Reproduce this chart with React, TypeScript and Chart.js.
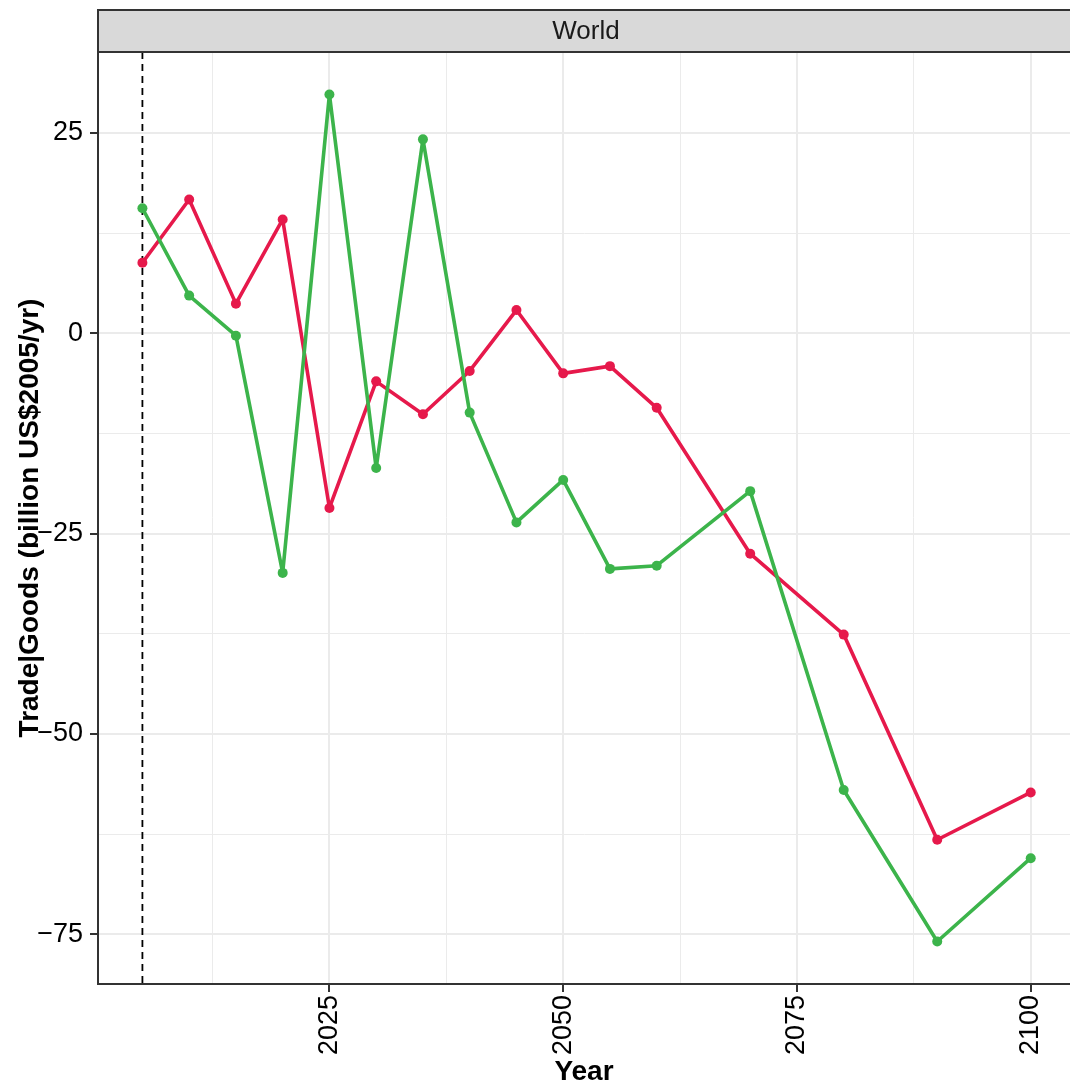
import React, { useEffect, useRef } from "react";
import { Chart, registerables } from "chart.js";

Chart.register(...registerables);

// ---- Data ----
const YEARS = [2005, 2010, 2015, 2020, 2025, 2030, 2035, 2040, 2045, 2050, 2055, 2060, 2070, 2080, 2090, 2100];
const SERIES_RED = [8.8, 16.7, 3.7, 14.2, -21.8, -6.0, -10.1, -4.7, 2.9, -5.0, -4.1, -9.3, -27.5, -37.6, -63.2, -57.3];
const SERIES_GREEN = [15.6, 4.7, -0.3, -29.9, 29.8, -16.8, 24.2, -9.9, -23.6, -18.3, -29.4, -29.0, -19.7, -57.0, -75.9, -65.5];

const X_MAJOR_TICKS = [2025, 2050, 2075, 2100];
const X_MINOR_TICKS = [2012.5, 2037.5, 2062.5, 2087.5];
const Y_MAJOR_TICKS = [-75, -50, -25, 0, 25];
const Y_MINOR_TICKS = [-62.5, -37.5, -12.5, 12.5];
const X_RANGE = [2000.25, 2104.2];
const Y_RANGE = [-81.2, 35.1];
const REFERENCE_YEAR = 2005;

const FACET_LABEL = "World";
const X_TITLE = "Year";
const Y_TITLE = "Trade|Goods (billion US$2005/yr)";

const RED = "#e6194b";
const GREEN = "#3cb44b";
const FONT = "'Liberation Sans', Arial, Helvetica, sans-serif";

const isMajor = (v: number, majors: number[]) => majors.some((m) => Math.abs(m - v) < 1e-6);

const stripPlugin = {
  id: "strip",
  afterDraw(chart: any) {
    const { ctx, chartArea, width } = chart;
    const top = 10;
    const bottom = chartArea.top;
    ctx.save();
    ctx.fillStyle = "#d9d9d9";
    ctx.fillRect(chartArea.left, top, width + 10 - chartArea.left, bottom - top);
    ctx.strokeStyle = "#333333";
    ctx.lineWidth = 2;
    ctx.strokeRect(chartArea.left, top, width + 10 - chartArea.left, bottom - top);
    ctx.fillStyle = "#1a1a1a";
    ctx.font = `26px ${FONT}`;
    ctx.textAlign = "center";
    ctx.textBaseline = "middle";
    const xs = chart.scales.x;
    const cx = xs.getPixelForValue((X_RANGE[0] + X_RANGE[1]) / 2) + 2;
    ctx.fillText(FACET_LABEL, cx, (top + bottom) / 2 + 1);
    ctx.restore();
  },
};

const refLinePlugin = {
  id: "refLine",
  beforeDatasetsDraw(chart: any) {
    const { ctx, chartArea } = chart;
    const x = chart.scales.x.getPixelForValue(REFERENCE_YEAR);
    ctx.save();
    ctx.strokeStyle = "#000000";
    ctx.lineWidth = 1.8;
    ctx.setLineDash([7, 5]);
    ctx.beginPath();
    ctx.moveTo(x, chartArea.top);
    ctx.lineTo(x, chartArea.bottom);
    ctx.stroke();
    ctx.restore();
  },
};

export default function App() {
  const ref = useRef<HTMLCanvasElement | null>(null);

  useEffect(() => {
    if (!ref.current) return;
    const lineStyle = (color: string, order: number) => ({
      borderColor: color,
      backgroundColor: color,
      pointBackgroundColor: color,
      pointBorderWidth: 0,
      pointRadius: 5,
      borderWidth: 3.6,
      borderJoinStyle: "round",
      borderCapStyle: "round",
      tension: 0,
      order,
    });
    const chart = new Chart(ref.current, {
      type: "line",
      data: {
        datasets: [
          {
            label: "green",
            data: YEARS.map((y, i) => ({ x: y, y: SERIES_GREEN[i] })),
            ...lineStyle(GREEN, 0),
          },
          {
            label: "red",
            data: YEARS.map((y, i) => ({ x: y, y: SERIES_RED[i] })),
            ...lineStyle(RED, 1),
          },
        ],
      },
      options: {
        animation: false,
        responsive: false,
        maintainAspectRatio: false,
        layout: { autoPadding: false, padding: { top: 52, left: 0, right: 0, bottom: 0 } },
        plugins: { legend: { display: false }, tooltip: { enabled: false } },
        scales: {
          x: {
            type: "linear",
            min: X_RANGE[0],
            max: X_RANGE[1],
            afterBuildTicks: (scale: any) => {
              scale.ticks = [...X_MINOR_TICKS, ...X_MAJOR_TICKS]
                .sort((a, b) => a - b)
                .map((v) => ({ value: v }));
            },
            afterFit: (scale: any) => {
              scale.height = 106;
              scale.paddingLeft = 0;
              scale.paddingRight = 0;
            },
            ticks: {
              autoSkip: false,
              minRotation: 90,
              maxRotation: 90,
              padding: 3,
              color: "#000000",
              font: { family: FONT, size: 27 },
              callback: (v: any) => (isMajor(Number(v), X_MAJOR_TICKS) ? String(v) : ""),
            },
            grid: {
              color: "#ebebeb",
              lineWidth: (c: any) => (c.tick && isMajor(c.tick.value, X_MAJOR_TICKS) ? 2 : 1),
              tickColor: (c: any) => (c.tick && isMajor(c.tick.value, X_MAJOR_TICKS) ? "#333333" : "rgba(0,0,0,0)"),
              tickLength: 8,
              tickWidth: 2,
              drawTicks: true,
            },
            border: { display: true, color: "#333333", width: 2 },
            title: {
              display: true,
              text: X_TITLE,
              color: "#000000",
              font: { family: FONT, size: 28, weight: "bold" },
              padding: { top: 0, bottom: 1 },
            },
          },
          y: {
            type: "linear",
            min: Y_RANGE[0],
            max: Y_RANGE[1],
            afterBuildTicks: (scale: any) => {
              scale.ticks = [...Y_MINOR_TICKS, ...Y_MAJOR_TICKS]
                .sort((a, b) => a - b)
                .map((v) => ({ value: v }));
            },
            afterFit: (scale: any) => {
              scale.width = 98;
              scale.paddingTop = 0;
              scale.paddingBottom = 0;
            },
            ticks: {
              autoSkip: false,
              padding: 7,
              color: "#000000",
              font: { family: FONT, size: 27 },
              callback: (v: any) => {
                const n = Number(v);
                if (!isMajor(n, Y_MAJOR_TICKS)) return "";
                return n < 0 ? "\u2212" + Math.abs(n) : String(n);
              },
            },
            grid: {
              color: "#ebebeb",
              lineWidth: (c: any) => (c.tick && isMajor(c.tick.value, Y_MAJOR_TICKS) ? 2 : 1),
              tickColor: (c: any) => (c.tick && isMajor(c.tick.value, Y_MAJOR_TICKS) ? "#333333" : "rgba(0,0,0,0)"),
              tickLength: 8,
              tickWidth: 2,
              drawTicks: true,
            },
            border: { display: true, color: "#333333", width: 2 },
            title: {
              display: true,
              text: Y_TITLE,
              color: "#000000",
              font: { family: FONT, size: 28, weight: "bold" },
              padding: { top: 13, bottom: 0 },
            },
          },
        },
      },
      plugins: [refLinePlugin, stripPlugin],
    } as any);
    return () => chart.destroy();
  }, []);

  return (
    <div style={{ position: "absolute", left: 0, top: 0, width: 1070, height: 1090, background: "#ffffff" }}>
      <canvas ref={ref} width={1070} height={1090} />
    </div>
  );
}
